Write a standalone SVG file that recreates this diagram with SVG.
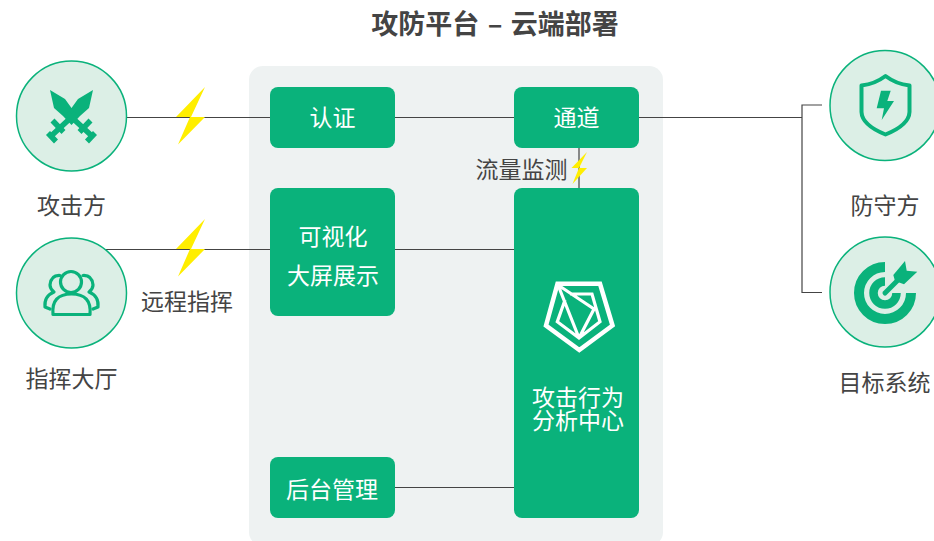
<svg xmlns="http://www.w3.org/2000/svg" width="934" height="541" viewBox="0 0 934 541">
<style>
text{font-family:"Noto Sans CJK SC","Noto Sans",sans-serif;font-size:23px;fill:#444;text-anchor:middle}
.w{fill:#fff}
.box{fill:#0ab27b}
.c{fill:#dcefe6;stroke:#0ab27b;stroke-width:1.5}
.g{fill:#0ab27b}
.gl{fill:none;stroke:#0ab27b}
.bolt{fill:#ffee00}
.line{fill:none;stroke:#444;stroke-width:1.2}
</style>
<rect width="934" height="541" fill="#fff"/>
<text x="495" y="34" style="font-size:27px;font-weight:700;word-spacing:2.300px">攻防平台 – 云端部署</text>
<rect id="platform" x="249" y="66" width="414" height="480" rx="14" fill="#eef2f2"/>
<g id="connectors">
<path class="line" d="M127 117.500H270M395 117.500H514M639 117.500H802M822 105H802V292.500H822M105 249.500H270M395 249.500H514M395 487.500H514M579 148V188"/>
</g>
<g id="bolts">
<path class="bolt" d="M205 87L176 117H190L178 144.500L205 117H191Z"/>
<path class="bolt" d="M205 219L176 249H190L178 276.500L205 249H191Z"/>
<path class="bolt" d="M587 152L571.500 168H579L572.500 184L587 168H579Z"/>
</g>
<g id="attacker">
<circle class="c" cx="71.500" cy="116" r="55"/>
<path class="g" d="M50 90L65 99L71.500 108L78 99L93 90L89 108L80 116L71.500 125L63 116L54 108Z"/>
<g class="gl" stroke-width="5.500">
<path d="M76 113L50 137M67 113L93 137"/>
<path d="M52.500 120.500L63.500 132M48 133L56 141.500M90.500 120.500L79.500 132M95 133L87 141.500"/>
</g>
<text x="71.500" y="214">攻击方</text>
</g>
<g id="command">
<circle class="c" cx="71.500" cy="293" r="55"/>
<g class="gl" stroke-width="3.200" stroke-linecap="round" stroke-linejoin="round">
<circle cx="71" cy="282" r="10.500"/>
<path d="M53 314.500Q51 294 71.500 294Q92 294 90 314.500Z"/>
<path d="M60 275.500Q51 275 50 285Q50 289 54 292Q44 296 45 307L50 309"/>
<path d="M83 275.500Q92 275 93 285Q93 289 89 292Q99 296 98 307L93 309"/>
</g>
<text x="71.500" y="387">指挥大厅</text>
</g>
<text id="label-remote" x="187" y="310">远程指挥</text>
<text id="label-flow" x="521.500" y="178">流量监测</text>
<g id="defender">
<circle class="c" cx="885" cy="105.500" r="55"/>
<path class="gl" stroke-width="4" stroke-linejoin="round" d="M885.500 76Q875 84 861.500 85.500V112Q862 125 885.500 134.500Q909 125 909.500 112V85.500Q896 84 885.500 76Z"/>
<path class="g" d="M881 90.700H890.700L887.300 101H894L881.700 120L884 108.300H876.700Z"/>
<text x="885" y="214">防守方</text>
</g>
<g id="target">
<circle class="c" cx="885" cy="292" r="55"/>
<path class="gl" stroke-width="10" d="M885 267A26 26 0 1 0 911 293"/>
<path class="gl" stroke-width="8.500" d="M885 281.500A11.500 11.500 0 1 0 896.500 293"/>
<path class="gl" stroke-width="5" stroke-linecap="round" d="M885 293L898 280"/>
<path class="g" d="M893.300 275L905 261L906.700 270.700L917.300 271.700L904 284.300L895 281Z"/>
<text x="884.500" y="391">目标系统</text>
</g>
<g id="auth">
<rect class="box" x="270" y="87" width="125" height="61" rx="8"/>
<text class="w" x="332.500" y="125.500">认证</text>
</g>
<g id="channel">
<rect class="box" x="514" y="87" width="125" height="61" rx="8"/>
<text class="w" x="576.500" y="125.500">通道</text>
</g>
<g id="screen">
<rect class="box" x="270" y="188" width="125" height="128" rx="8"/>
<text class="w" x="333" y="244.500">可视化</text>
<text class="w" x="333" y="283.500">大屏展示</text>
</g>
<g id="backend">
<rect class="box" x="270" y="457" width="125" height="61" rx="8"/>
<text class="w" x="332" y="497.500">后台管理</text>
</g>
<g id="analysis">
<rect class="box" x="514" y="188" width="125" height="330" rx="8"/>
<path fill="none" stroke="#fff" stroke-width="4.500" stroke-linejoin="miter" d="M557.500 283.800H600L612.500 325.500L579.300 350L546 325.500Z"/>
<path fill="none" stroke="#fff" stroke-width="3.200" stroke-linejoin="miter" d="M558 285L594 309L579 338M570 294H592L600 321.700L579 338L557.300 321.700L565 300M558 285L579 338"/>
<text class="w" x="578" y="406">攻击行为</text>
<text class="w" x="578" y="428.500">分析中心</text>
</g>
</svg>
